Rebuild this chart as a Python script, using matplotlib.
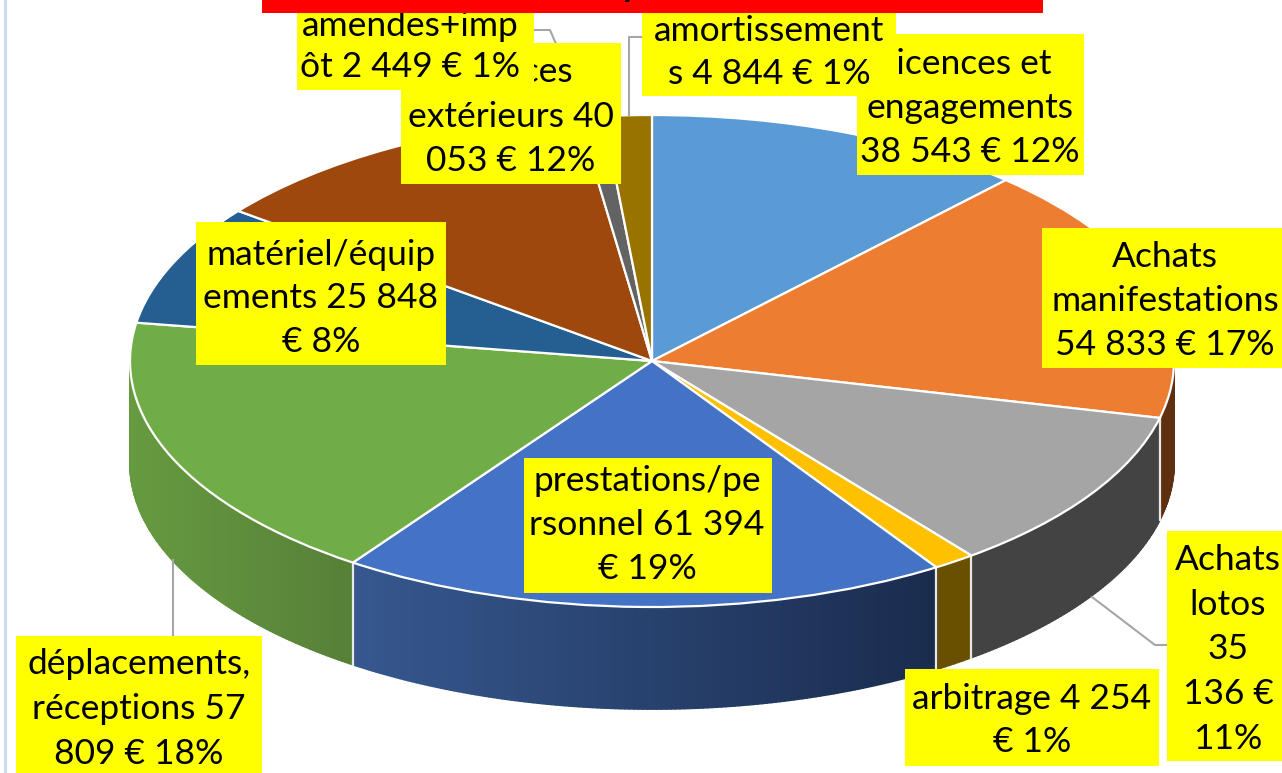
import numpy as np
import matplotlib
matplotlib.use("Agg")
import matplotlib.pyplot as plt
from matplotlib.collections import PolyCollection
from matplotlib.colors import to_rgb

plt.rcParams["font.family"] = ["Lato", "DejaVu Sans"]

# slices, clockwise from 12 o'clock
categories = ["licences et engagements", "Achats manifestations", "Achats lotos", "arbitrage",
              "prestations/personnel", "déplacements, réceptions", "matériel/équipements",
              "services extérieurs", "amendes+impôt", "amortissements"]
values = [38543, 54833, 35136, 4254, 61394, 57809, 25848, 40053, 2449, 4844]

top_colors = ["#5B9BD5", "#ED7D31", "#A5A5A5", "#FFC000", "#4472C4",
              "#70AD47", "#255E91", "#9E480E", "#636363", "#997300"]
# rim shade at the right and left end of each slice
side_right = ["#36618a", "#5f2f12", "#434343", "#695000", "#1a2c4e",
              "#578038", "#16385a", "#5f2b08", "#3b3b3b", "#5c4500"]
side_left = ["#36618a", "#5f2f12", "#434343", "#695000", "#36588f",
             "#669a40", "#16385a", "#5f2b08", "#3b3b3b", "#5c4500"]

# wrapped the same way as the boxes in the original
label_lines = [
    ["licences et", "engagements", "38 543 € 12%"],
    ["Achats", "manifestations", "54 833 € 17%"],
    ["Achats", "lotos", "35", "136 €", "11%"],
    ["arbitrage 4 254", "€ 1%"],
    ["prestations/pe", "rsonnel 61 394", "€ 19%"],
    ["déplacements,", "réceptions 57", "809 € 18%"],
    ["matériel/équip", "ements 25 848", "€ 8%"],
    ["services", "extérieurs 40", "053 € 12%"],
    ["amendes+imp", "ôt 2 449 € 1%"],
    ["amortissement", "s 4 844 € 1%"],
]

# box (x0, x1, y0, y1), text centre x, line y's, stacking, all in pixels
label_boxes = [
    (857, 1084, 34, 175, 970, [64, 108, 152], 5),
    (1042, 1282, 228, 368, 1165, [257, 301, 345], 5),
    (1167, 1282, 531, 761, 1228, [560, 605, 649, 694, 739], 5),
    (905, 1159, 669, 766, 1032, [699, 742], 5),
    (524, 772, 458, 593, 647, [481, 525, 569], 5),
    (16, 262, 636, 780, 139, [664, 709, 754], 5),
    (196, 446, 222, 365, 321, [255, 298, 342], 5),
    (401, 621, 43, 184, 511, [72, 117, 161], 5),
    (297, 534, 13, 90, 410, [26, 67], 6),
    (642, 896, 13, 96, 769, [31, 74], 6),
]

leaders = [
    ([173, 173], [560, 636]),
    ([1092, 1155, 1167], [597, 645, 645]),
    ([629, 629, 642], [115, 37, 37]),
    ([534, 550, 556], [30, 30, 44]),
]

W, H = 1282, 773
cx, cy, rx, ry = 652, 361, 522, 246
depth = 102 / ry

fig = plt.figure(figsize=(W / 100, H / 100), dpi=100, facecolor="white")

# pie axes: unit circle stretched to the ellipse of the tilted pie
ax = fig.add_axes([0, 0, 1, 1])
ax.pie(values, colors=top_colors, startangle=90, counterclock=False, radius=1,
       wedgeprops={"edgecolor": "white", "linewidth": 1.6})
ax.set_aspect("auto")
ax.set_xlim(-cx / rx, (W - cx) / rx)
ax.set_ylim((cy - H) / ry, cy / ry)
ax.axis("off")

# rim of the pie, only the part facing the viewer
shares = np.cumsum([0] + values) / sum(values) * 360
polys, cols = [], []
for i in range(len(values)):
    a0, a1 = max(shares[i], 90), min(shares[i + 1], 270)
    if a1 <= a0:
        continue
    steps = np.linspace(a0, a1, max(int((a1 - a0) * 2), 2))
    c_r, c_l = np.array(to_rgb(side_right[i])), np.array(to_rgb(side_left[i]))
    xa, xb = np.sin(np.radians(a0)), np.sin(np.radians(a1))
    for s0, s1 in zip(steps[:-1], steps[1:]):
        x0, y0 = np.sin(np.radians(s0)), np.cos(np.radians(s0))
        x1, y1 = np.sin(np.radians(s1)), np.cos(np.radians(s1))
        polys.append([(x0, y0), (x1, y1), (x1, y1 - depth), (x0, y0 - depth)])
        # shade runs with x across the slice, not with the angle
        t = (x0 - xb) / (xa - xb)
        cols.append(c_l + (c_r - c_l) * t)
ax.add_collection(PolyCollection(polys, facecolors=cols, edgecolors=cols, linewidths=1.3, zorder=0.5))

# white seams between slices on the rim
for a in shares:
    if 90 < a < 270:
        sx, sy = np.sin(np.radians(a)), np.cos(np.radians(a))
        ax.plot([sx, sx], [sy, sy - depth], color="#e8e8e8", lw=1.6, zorder=0.6)

# overlay in pixel coordinates for the labels
ov = fig.add_axes([0, 0, 1, 1], facecolor="none")
ov.set_xlim(0, W)
ov.set_ylim(H, 0)
ov.axis("off")

ov.fill_between([4, 7], 0, H, color="#c9ddf3", lw=0, zorder=1)
ov.fill_between([262, 1043], 0, 13, color="#ff0000", lw=0, zorder=7)
ov.text(630, -3, "y", fontsize=24, fontweight="bold", color="black", ha="center", va="baseline", zorder=8)

for xs, ys in leaders:
    ov.plot(xs, ys, color="#a6a6a6", lw=1.5, zorder=2)

for lines, (x0, x1, y0, y1, tx, ys, z) in zip(label_lines, label_boxes):
    ov.fill_between([x0, x1], y0, y1, color="#ffff00", lw=0, zorder=z)
    for line, y in zip(lines, ys):
        ov.text(tx, y, line, fontsize=25.5, color="black", ha="center", va="center", zorder=z + 0.1)

fig.savefig("out.png", dpi=100)
